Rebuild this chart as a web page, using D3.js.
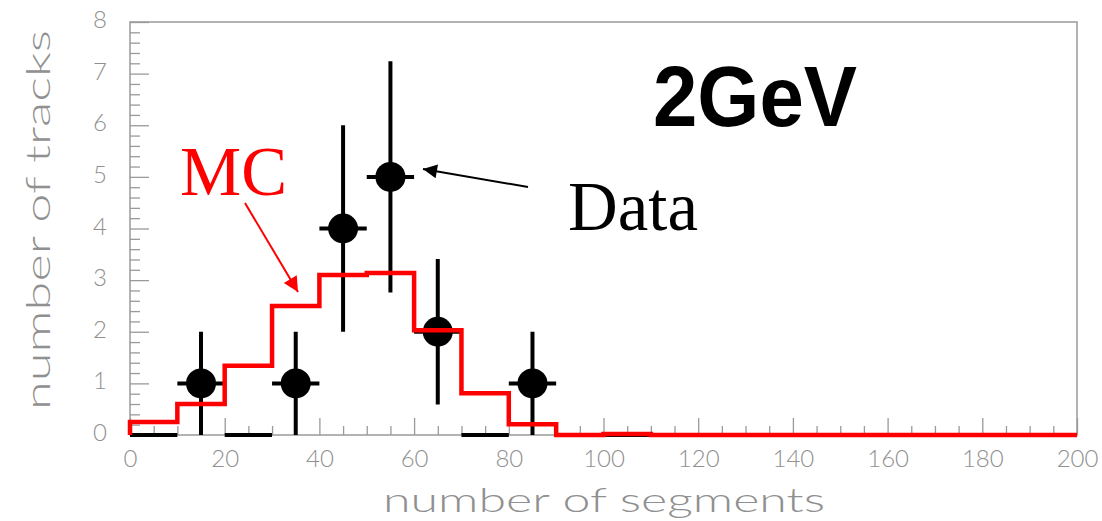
<!DOCTYPE html>
<html>
<head>
<meta charset="utf-8">
<script src="https://cdn.jsdelivr.net/npm/d3@7/dist/d3.min.js"></script>
<style>
  html, body { margin: 0; padding: 0; background: #fff; }
  svg { display: block; }
</style>
</head>
<body>
<svg id="chart" width="1102" height="521"></svg>
<script>
// ---- data ----
const binEdgesLow = [0,10,20,30,40,50,60,70,80,90,100,110,120,130,140,150,160,170,180,190];
const mcValues    = [0.25,0.6,1.34,2.5,3.1,3.14,2.03,0.81,0.21,0.0,0.02,0,0,0,0,0,0,0,0,0];
const dataValues  = [0,1,0,1,4,5,2,0,1,0,0,0,0,0,0,0,0,0,0,0];
const dataErrors  = [0,1,0,1,2,2.24,1.41,0,1,0,0,0,0,0,0,0,0,0,0,0];
const binWidth = 10;
const xTicks = [0,20,40,60,80,100,120,140,160,180,200];
const yTicks = [0,1,2,3,4,5,6,7,8];

const svg = d3.select("#chart");
const x = d3.scaleLinear().domain([0,200]).range([130,1077]);
const y = d3.scaleLinear().domain([0,8]).range([435,22]);

const grey = "#9a9a9a";
const textGrey = "#909090";
const tickFont = "Lato, 'DejaVu Sans', sans-serif";

// frame
svg.append("rect")
  .attr("x", x(0)).attr("y", y(8))
  .attr("width", x(200)-x(0)).attr("height", y(0)-y(8))
  .attr("fill","none").attr("stroke", grey).attr("stroke-width", 1.5);

// axes minor ticks
const xMinor = d3.range(0,201,5).filter(v => v % 20 !== 0);
const yMinor = d3.range(0,8.01,0.2).map(v => +v.toFixed(1)).filter(v => Math.abs(v - Math.round(v)) > 1e-6);

const gxMinor = svg.append("g").attr("transform", `translate(0,${y(0)})`)
  .call(d3.axisBottom(x).tickValues(xMinor).tickSize(-9).tickFormat(""));
const gxMajor = svg.append("g").attr("transform", `translate(0,${y(0)})`)
  .call(d3.axisBottom(x).tickValues(xTicks).tickSize(-17).tickPadding(0).tickFormat(d3.format("d")));
const gyMinor = svg.append("g").attr("transform", `translate(${x(0)},0)`)
  .call(d3.axisLeft(y).tickValues(yMinor).tickSize(-10).tickFormat(""));
const gyMajor = svg.append("g").attr("transform", `translate(${x(0)},0)`)
  .call(d3.axisLeft(y).tickValues(yTicks).tickSize(-19).tickFormat(d3.format("d")));

[gxMinor,gxMajor,gyMinor,gyMajor].forEach(g => {
  g.select(".domain").remove();
  g.selectAll(".tick line").attr("stroke", grey).attr("stroke-width", 1.3);
});

gxMajor.selectAll(".tick text")
  .attr("y", 22).attr("dy", 0)
  .attr("dominant-baseline", "central")
  .attr("fill", textGrey).attr("font-family", tickFont).attr("font-weight", 300)
  .attr("font-size", 24);

gyMajor.selectAll(".tick text")
  .attr("x", -30).attr("dy", 0).attr("y", -4)
  .attr("text-anchor", "middle")
  .attr("dominant-baseline", "central")
  .attr("fill", textGrey).attr("font-family", tickFont).attr("font-weight", 300)
  .attr("font-size", 24);

// axis titles
svg.append("text")
  .attr("x", 604).attr("y", 512)
  .attr("text-anchor", "middle")
  .attr("fill", textGrey).attr("font-family", tickFont).attr("font-weight", 300)
  .attr("font-size", 34)
  .attr("textLength", 442).attr("lengthAdjust", "spacingAndGlyphs")
  .text("number of segments");

svg.append("text")
  .attr("transform", "translate(50,220) rotate(-90)")
  .attr("text-anchor", "middle")
  .attr("fill", textGrey).attr("font-family", tickFont).attr("font-weight", 300)
  .attr("font-size", 34)
  .attr("textLength", 380).attr("lengthAdjust", "spacingAndGlyphs")
  .text("number of tracks");

// data points
const pts = binEdgesLow.map((lo,i) => ({lo, c: lo + binWidth/2, v: dataValues[i], e: dataErrors[i]}));
const gData = svg.append("g");
// zero-bin horizontal markers
gData.selectAll("line.zero").data(pts.filter(d => d.v === 0)).join("line")
  .attr("x1", d => x(d.lo)).attr("x2", d => x(d.lo + binWidth))
  .attr("y1", y(0)).attr("y2", y(0))
  .attr("stroke", "#000").attr("stroke-width", 4);
const nz = pts.filter(d => d.v > 0);
gData.selectAll("line.h").data(nz).join("line")
  .attr("x1", d => x(d.lo)).attr("x2", d => x(d.lo + binWidth))
  .attr("y1", d => y(d.v)).attr("y2", d => y(d.v))
  .attr("stroke", "#000").attr("stroke-width", 4);
gData.selectAll("line.v").data(nz).join("line")
  .attr("x1", d => x(d.c)).attr("x2", d => x(d.c))
  .attr("y1", d => y(Math.max(0, d.v - d.e))).attr("y2", d => y(d.v + d.e))
  .attr("stroke", "#000").attr("stroke-width", 4);
gData.selectAll("circle").data(nz).join("circle")
  .attr("cx", d => x(d.c)).attr("cy", d => y(d.v)).attr("r", 15)
  .attr("fill", "#000");

// MC histogram
const stepPts = [[0,0]];
binEdgesLow.forEach((lo,i) => { stepPts.push([lo, mcValues[i]]); stepPts.push([lo+binWidth, mcValues[i]]); });
stepPts.push([200,0]);
svg.append("path")
  .attr("d", d3.line().x(d => x(d[0])).y(d => y(d[1]))(stepPts))
  .attr("fill", "none").attr("stroke", "#ff0000").attr("stroke-width", 4.5)
  .attr("stroke-linejoin", "miter");

// arrow markers
const defs = svg.append("defs");
defs.append("marker").attr("id","headRed").attr("viewBox","0 0 10 10")
  .attr("refX",10).attr("refY",5).attr("markerUnits","userSpaceOnUse")
  .attr("markerWidth",19).attr("markerHeight",15).attr("orient","auto")
  .append("path").attr("d","M0,0 L10,5 L0,10 Z").attr("fill","#ff0000");
defs.append("marker").attr("id","headBlack").attr("viewBox","0 0 10 10")
  .attr("refX",10).attr("refY",5).attr("markerUnits","userSpaceOnUse")
  .attr("markerWidth",18).attr("markerHeight",14).attr("orient","auto")
  .append("path").attr("d","M0,0 L10,5 L0,10 Z").attr("fill","#000");

// annotations
svg.append("text")
  .attr("x", 180).attr("y", 195)
  .attr("fill", "#ff0000").attr("font-family", "'Liberation Serif','Times New Roman',serif")
  .attr("font-size", 70)
  .attr("textLength", 107).attr("lengthAdjust", "spacingAndGlyphs")
  .text("MC");
svg.append("line")
  .attr("x1", 245).attr("y1", 203).attr("x2", 298).attr("y2", 292)
  .attr("stroke", "#ff0000").attr("stroke-width", 2)
  .attr("marker-end", "url(#headRed)");

svg.append("text")
  .attr("x", 568).attr("y", 230)
  .attr("fill", "#000").attr("font-family", "'Liberation Serif','Times New Roman',serif")
  .attr("font-size", 70)
  .attr("textLength", 130).attr("lengthAdjust", "spacingAndGlyphs")
  .text("Data");
svg.append("line")
  .attr("x1", 528).attr("y1", 187).attr("x2", 423).attr("y2", 169)
  .attr("stroke", "#000").attr("stroke-width", 2)
  .attr("marker-end", "url(#headBlack)");

svg.append("text")
  .attr("x", 653).attr("y", 126)
  .attr("fill", "#000").attr("font-family", "'Liberation Sans',Arial,sans-serif")
  .attr("font-weight", "bold")
  .attr("font-size", 86)
  .attr("textLength", 204).attr("lengthAdjust", "spacingAndGlyphs")
  .text("2GeV");
</script>
</body>
</html>
